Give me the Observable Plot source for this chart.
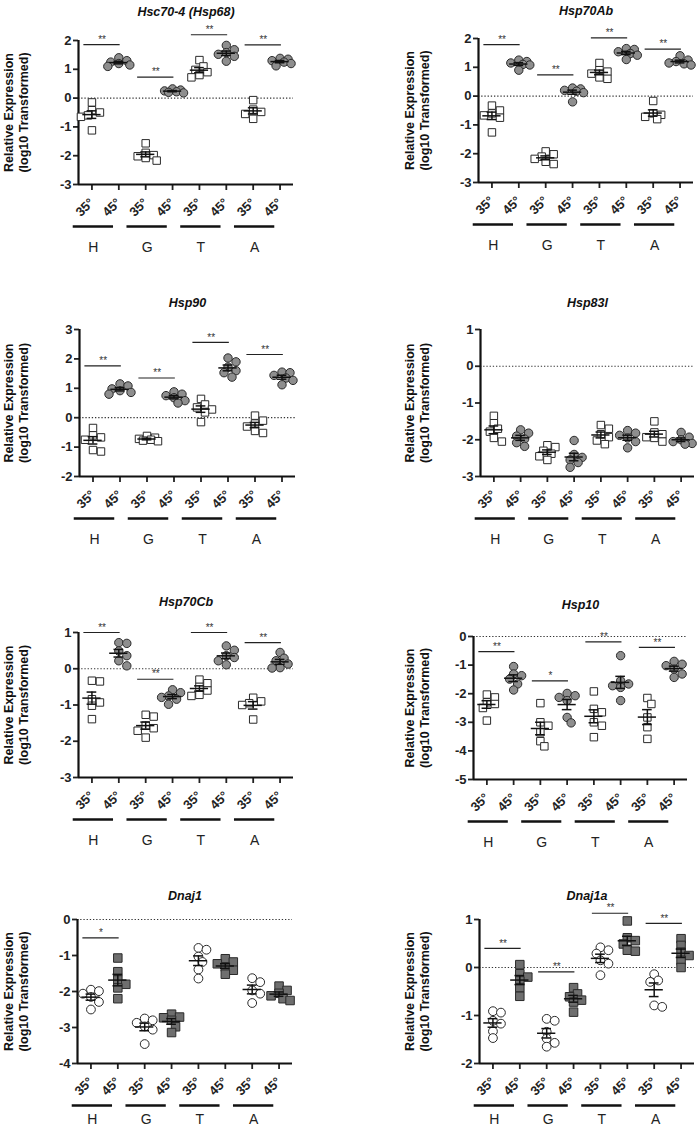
<!DOCTYPE html>
<html><head><meta charset="utf-8">
<script src="https://cdn.jsdelivr.net/npm/d3@7"></script>
<script src="https://cdn.jsdelivr.net/npm/@observablehq/plot@0.6"></script>
<style>
html,body{margin:0;padding:0;background:#fff;}
#fig{position:relative;width:697px;height:1130px;overflow:hidden;font-family:"Liberation Sans",Arial,sans-serif;}
.panel{position:absolute;}
</style></head><body><div id="fig"></div>
<script>
// ---- categories / labels ----
const groups = ["H", "G", "T", "A"];
const temps = ["35°", "45°"];
const yLabel = "Relative Expression\n(log10 Transformed)";

// ---- values: order H35, H45, G35, G45, T35, T45, A35, A45 ----
const hsc70Values = [
  [-0.15, -0.42, -0.5, -0.6, -0.65, -1.12],
  [1.4, 1.3, 1.25, 1.2, 1.15, 1.1],
  [-1.57, -1.9, -1.98, -2.02, -2.08, -2.17],
  [0.32, 0.28, 0.25, 0.22, 0.2, 0.18],
  [1.32, 1.1, 0.98, 0.9, 0.8, 0.72],
  [1.83, 1.68, 1.58, 1.52, 1.45, 1.28],
  [-0.07, -0.4, -0.48, -0.55, -0.72],
  [1.38, 1.35, 1.3, 1.25, 1.2, 1.12]
];
const hsc70Sig = [1.86, 0.73, 2.2, 1.85];
const hsc70Stars = ["**", "**", "**", "**"];

const hsp70abValues = [
  [-0.33, -0.5, -0.6, -0.67, -0.75, -1.26],
  [1.25, 1.2, 1.15, 1.1, 1.08, 0.9],
  [-1.92, -2.02, -2.1, -2.18, -2.28, -2.36],
  [0.28, 0.25, 0.2, 0.17, 0.12, -0.2],
  [1.15, 0.9, 0.85, 0.78, 0.65, 0.6],
  [1.65, 1.62, 1.54, 1.48, 1.42, 1.27],
  [-0.17, -0.6, -0.65, -0.72, -0.8],
  [1.4, 1.25, 1.2, 1.15, 1.12, 1.08]
];
const hsp70abSig = [1.79, 0.74, 2.02, 1.63];
const hsp70abStars = ["**", "**", "**", "**"];

const hsp90Values = [
  [-0.35, -0.6, -0.67, -0.75, -1.1, -1.15],
  [1.15, 1.08, 0.98, 0.92, 0.86, 0.8],
  [-0.62, -0.68, -0.72, -0.75, -0.78, -0.8],
  [0.88, 0.8, 0.75, 0.68, 0.58, 0.5],
  [0.64, 0.45, 0.35, 0.28, 0.18, -0.15],
  [2.03, 1.9, 1.72, 1.6, 1.53, 1.38],
  [0.07, -0.1, -0.2, -0.3, -0.45, -0.52],
  [1.55, 1.53, 1.44, 1.35, 1.27, 1.12]
];
const hsp90Sig = [1.76, 1.35, 2.56, 2.15];
const hsp90Stars = ["**", "**", "**", "**"];

const hsp83lValues = [
  [-1.35, -1.55, -1.7, -1.78, -1.95, -2.05],
  [-1.73, -1.82, -1.9, -1.98, -2.08, -2.18],
  [-2.15, -2.2, -2.3, -2.38, -2.45, -2.55],
  [-2.02, -2.4, -2.48, -2.55, -2.62, -2.75],
  [-1.6, -1.7, -1.85, -1.93, -2.02, -2.12],
  [-1.75, -1.82, -1.88, -1.95, -2.05, -2.22],
  [-1.5, -1.8, -1.85, -1.93, -1.95, -2.05],
  [-1.8, -1.93, -2.0, -2.05, -2.1, -2.12]
];
const hsp83lSig = [null, null, null, null];
const hsp83lStars = ["", "", "", ""];

const hsp70cbValues = [
  [-0.33, -0.35, -0.84, -0.93, -1.02, -1.39],
  [0.72, 0.7, 0.49, 0.36, 0.22, 0.08],
  [-1.27, -1.32, -1.57, -1.64, -1.71, -1.9],
  [-0.58, -0.66, -0.75, -0.79, -0.84, -0.98],
  [-0.3, -0.4, -0.5, -0.6, -0.72, -0.75],
  [0.63, 0.51, 0.36, 0.31, 0.22, 0.11],
  [-0.8, -0.9, -0.95, -1.0, -1.4],
  [0.45, 0.29, 0.22, 0.13, 0.03, 0.02]
];
const hsp70cbSig = [1.0, -0.29, 1.0, 0.72];
const hsp70cbStars = ["**", "**", "**", "**"];

const hsp10Values = [
  [-2.03, -2.13, -2.3, -2.36, -2.5, -2.94],
  [-1.05, -1.31, -1.37, -1.49, -1.66, -1.87],
  [-2.33, -3.0, -3.12, -3.35, -3.66, -3.84],
  [-1.99, -2.07, -2.13, -2.24, -2.83, -3.02],
  [-1.92, -2.53, -2.65, -3.0, -3.12, -3.52],
  [-0.67, -1.55, -1.66, -1.72, -1.78, -2.24],
  [-2.15, -2.36, -2.83, -3.17, -3.58],
  [-0.87, -0.97, -1.02, -1.14, -1.31, -1.43]
];
const hsp10Sig = [-0.53, -1.55, -0.19, -0.38];
const hsp10Stars = ["**", "*", "**", "**"];

const dnaj1Values = [
  [-1.95, -1.99, -2.06, -2.15, -2.29, -2.5],
  [-1.07, -1.45, -1.68, -1.8, -1.9, -2.2],
  [-2.75, -2.8, -2.87, -2.97, -3.06, -3.46],
  [-2.63, -2.71, -2.73, -2.8, -2.98, -3.14],
  [-0.79, -0.84, -1.03, -1.18, -1.39, -1.64],
  [-1.09, -1.18, -1.23, -1.32, -1.41, -1.52],
  [-1.63, -1.74, -1.97, -2.06, -2.32],
  [-1.85, -1.97, -2.05, -2.12, -2.2, -2.25]
];
const dnaj1Sig = [-0.51, null, null, null];
const dnaj1Stars = ["*", "", "", ""];

const dnaj1aValues = [
  [-0.91, -0.94, -1.11, -1.17, -1.33, -1.47],
  [0.06, -0.13, -0.2, -0.28, -0.42, -0.6],
  [-1.07, -1.11, -1.34, -1.48, -1.57, -1.65],
  [-0.42, -0.55, -0.61, -0.68, -0.72, -0.93],
  [0.42, 0.36, 0.29, 0.15, 0.08, -0.16],
  [0.97, 0.62, 0.56, 0.49, 0.36, 0.34],
  [-0.14, -0.27, -0.3, -0.79, -0.82],
  [0.6, 0.46, 0.32, 0.25, 0.15, 0.0]
];
const dnaj1aSig = [0.4, -0.09, 1.13, 0.92];
const dnaj1aStars = ["**", "**", "**", "**"];

// ---- panel layout (page pixels) ----
const panels = [
  {title: "Hsc70-4 (Hsp68)", values: hsc70Values, sig: hsc70Sig, stars: hsc70Stars, domain: [-3, 2], col: 0, axisX: 78, rightEnd: 293, top: 40, bottom: 184, titleY: 7, row4: false},
  {title: "Hsp70Ab", values: hsp70abValues, sig: hsp70abSig, stars: hsp70abStars, domain: [-3, 2], col: 1, axisX: 478, rightEnd: 693, top: 38, bottom: 182, titleY: 6, row4: false},
  {title: "Hsp90", values: hsp90Values, sig: hsp90Sig, stars: hsp90Stars, domain: [-2, 3], col: 0, axisX: 79, rightEnd: 295, top: 329, bottom: 476, titleY: 298, row4: false},
  {title: "Hsp83l", values: hsp83lValues, sig: hsp83lSig, stars: hsp83lStars, domain: [-3, 1], col: 1, axisX: 480, rightEnd: 694, top: 329, bottom: 476, titleY: 298, row4: false},
  {title: "Hsp70Cb", values: hsp70cbValues, sig: hsp70cbSig, stars: hsp70cbStars, domain: [-3, 1], col: 0, axisX: 78, rightEnd: 293, top: 632, bottom: 777, titleY: 597, row4: false},
  {title: "Hsp10", values: hsp10Values, sig: hsp10Sig, stars: hsp10Stars, domain: [-5, 0], col: 1, axisX: 473, rightEnd: 687, top: 636, bottom: 779, titleY: 600, row4: false},
  {title: "Dnaj1", values: dnaj1Values, sig: dnaj1Sig, stars: dnaj1Stars, domain: [-4, 0], col: 0, axisX: 77, rightEnd: 292, top: 919, bottom: 1063, titleY: 891, row4: true},
  {title: "Dnaj1a", values: dnaj1aValues, sig: dnaj1aSig, stars: dnaj1aStars, domain: [-2, 1], col: 1, axisX: 479, rightEnd: 694, top: 919, bottom: 1063, titleY: 891, row4: true}
];

// simple beeswarm-style horizontal spreading (pixels)
function dodge(vals, pxY) {
  const order = vals.map((v, i) => i).sort((a, b) => vals[b] - vals[a]);
  const placed = [];
  const off = new Array(vals.length).fill(0);
  const cands = [0, 4, -4, 8, -8, 11, -11];
  for (const i of order) {
    const y = -vals[i] * pxY;
    let chosen = null, best = null, bestD = -1;
    for (const c of cands) {
      const d = placed.length ? Math.min(...placed.map(p => Math.hypot(p.x - c, p.y - y))) : Infinity;
      if (d >= 6.5) { chosen = c; break; }
      if (d > bestD) { bestD = d; best = c; }
    }
    if (chosen === null) chosen = best;
    placed.push({x: chosen, y});
    off[i] = chosen;
  }
  return off;
}

const fig = document.getElementById("fig");
const FONT = "Liberation Sans, Arial, sans-serif";

for (const p of panels) {
  const svgLeft = p.col === 0 ? 0 : 345;
  const width = p.col === 0 ? 345 : 352;
  const mL = p.axisX - svgLeft;
  const mR = svgLeft + width - p.rightEnd;
  const mT = 40, mB = 72;
  const plotH = p.bottom - p.top;
  const height = mT + plotH + mB;
  const pxY = plotH / (p.domain[1] - p.domain[0]);
  const pxX = (p.rightEnd - p.axisX) / 8;

  const pts = [];
  p.values.forEach((arr, c) => {
    const off = dodge(arr, pxY);
    arr.forEach((v, k) => pts.push({c, v, x: c + off[k] / pxX, t: c % 2}));
  });
  const stats = p.values.map((arr, c) => {
    const m = d3.mean(arr);
    const s = d3.deviation(arr) / Math.sqrt(arr.length);
    return {c, m, lo: m - s, hi: m + s};
  });
  const sigData = p.sig.map((v, g) => ({g, v, s: p.stars[g]})).filter(d => d.v !== null);

  const p35 = pts.filter(d => d.t === 0);
  const p45 = pts.filter(d => d.t === 1);
  let dotMarks;
  if (!p.row4) {
    dotMarks = [
      Plot.dot(p35, {x: "x", y: "v", symbol: "square", r: 4.2, fill: "white", stroke: "#2a2a2a", strokeWidth: 1}),
      Plot.dot(p45, {x: "x", y: "v", symbol: "circle", r: 4.2, fill: "#8e8e8e", stroke: "#2a2a2a", strokeWidth: 1})
    ];
  } else {
    dotMarks = [
      Plot.dot(p35, {x: "x", y: "v", symbol: "circle", r: 4.4, fill: "white", stroke: "#2a2a2a", strokeWidth: 1}),
      Plot.dot(p45, {x: "x", y: "v", symbol: "square", r: 4.8, fill: "#6e6e6e", stroke: "#2a2a2a", strokeWidth: 1})
    ];
  }

  const labelCenter = p.col === 0 ? 15 : 416;
  const labelX = -0.5 - (p.axisX - labelCenter) / pxX;
  const labelY = (p.domain[0] + p.domain[1]) / 2;
  const groupDy = p.row4 ? 56 : 63;

  const chart = Plot.plot({
    width, height,
    marginLeft: mL, marginRight: mR, marginTop: mT, marginBottom: mB,
    x: {domain: [-0.5, 7.5], axis: null},
    y: {domain: p.domain, axis: null},
    style: {fontFamily: FONT, color: "#222", background: "transparent", overflow: "visible"},
    marks: [
      Plot.ruleY([0], {stroke: "#333", strokeWidth: 1.2, strokeDasharray: "1.3,1.9"}),
      Plot.axisY({ticks: d3.range(p.domain[0], p.domain[1] + 1), tickFormat: d => String(d), tickSize: 5, tickPadding: 2, fontSize: 13, fontWeight: "bold", strokeWidth: 1.8, label: null}),
      Plot.axisX({ticks: d3.range(8), tickFormat: i => temps[i % 2], tickRotate: -45, tickSize: 6, tickPadding: 10, fontSize: 13, fontWeight: "bold", strokeWidth: 1.8, label: null}),
      Plot.ruleX([-0.5], {stroke: "#111", strokeWidth: 2.2}),
      Plot.ruleY([p.domain[0]], {stroke: "#111", strokeWidth: 2.2}),
      ...dotMarks,
      Plot.ruleY(stats, {y: "m", x1: d => d.c - 0.34, x2: d => d.c + 0.34, stroke: "#111", strokeWidth: 1.5}),
      Plot.ruleX(stats, {x: "c", y1: "lo", y2: "hi", stroke: "#111", strokeWidth: 1.5}),
      Plot.ruleY(stats, {y: "lo", x1: d => d.c - 0.18, x2: d => d.c + 0.18, stroke: "#111", strokeWidth: 1.5}),
      Plot.ruleY(stats, {y: "hi", x1: d => d.c - 0.18, x2: d => d.c + 0.18, stroke: "#111", strokeWidth: 1.5}),
      Plot.ruleY(sigData, {y: "v", x1: d => 2 * d.g - 0.3, x2: d => 2 * d.g + 1.05, stroke: "#222", strokeWidth: 1.2}),
      Plot.text(sigData, {x: d => 2 * d.g + 0.375, y: "v", text: "s", dy: -5, fontSize: 10, fill: "#333"}),
      Plot.ruleY(groups, {y: () => p.domain[0], x1: (g, i) => 2 * i - 0.25, x2: (g, i) => 2 * i + 1.25, dx: -12, dy: 42, stroke: "#111", strokeWidth: 2.5}),
      Plot.text(groups, {x: (g, i) => 2 * i + 0.5, y: () => p.domain[0], text: d => d, dx: -12, dy: groupDy, fontSize: 14, fill: "#222"}),
      Plot.text([p.title], {text: d => d, frameAnchor: "top", dy: p.titleY - p.top, fontSize: 12.5, fontWeight: "bold", fontStyle: "italic", fill: "#111"}),
      Plot.text([yLabel], {text: d => d, x: () => labelX, y: () => labelY, rotate: -90, fontSize: 12.5, fontWeight: "bold", lineHeight: 1.2, fill: "#111"})
    ]
  });
  const div = document.createElement("div");
  div.className = "panel";
  div.style.left = svgLeft + "px";
  div.style.top = (p.top - mT) + "px";
  div.appendChild(chart);
  fig.appendChild(div);
}
</script>
</body></html>
